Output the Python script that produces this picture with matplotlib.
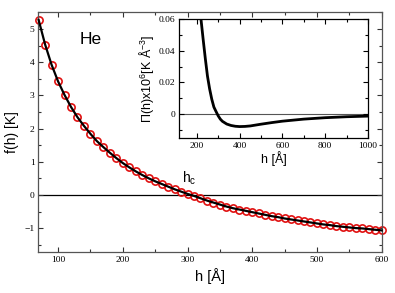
import matplotlib
matplotlib.use("Agg")
import matplotlib.pyplot as plt
from matplotlib.ticker import MultipleLocator, FuncFormatter

plt.rcParams['font.family'] = ['Liberation Serif', 'DejaVu Serif']
plt.rcParams['mathtext.fontset'] = 'custom'
plt.rcParams['mathtext.rm'] = 'Liberation Sans'
plt.rcParams['mathtext.it'] = 'Liberation Sans:italic'

# ---- main data: f(h) [K] vs h [Å]
h_main = [70, 80, 90, 100, 110, 120, 130, 140, 150, 160, 170, 180, 190, 200,
          210, 220, 230, 240, 250, 260, 270, 280, 290, 300, 310, 320, 330, 340,
          350, 360, 370, 380, 390, 400, 410, 420, 430, 440, 450, 460, 470, 480,
          490, 500, 510, 520, 530, 540, 550, 560, 570, 580, 590, 600]
f_main = [5.27, 4.53, 3.92, 3.42, 3.01, 2.65, 2.34, 2.08, 1.84, 1.62, 1.44, 1.27,
          1.11, 0.96, 0.83, 0.71, 0.60, 0.50, 0.41, 0.33, 0.25, 0.17, 0.10, 0.03,
          -0.03, -0.10, -0.17, -0.23, -0.29, -0.35, -0.40, -0.44, -0.48, -0.52,
          -0.56, -0.60, -0.64, -0.67, -0.71, -0.74, -0.77, -0.80, -0.83, -0.86,
          -0.89, -0.91, -0.94, -0.96, -0.98, -1.00, -1.01, -1.03, -1.05, -1.07]

# ---- inset data: Pi(h) x 1e6 [K Å^-3]
h_ins = [220, 230, 240, 250, 260, 270, 280, 290, 300, 310, 320, 340, 360, 380,
         400, 425, 450, 500, 550, 600, 700, 800, 900, 1000]
p_ins = [0.0595, 0.047, 0.035, 0.024, 0.016, 0.0095, 0.0045, 0.0017, -0.0010,
         -0.0031, -0.0045, -0.0062, -0.0071, -0.0076, -0.0078, -0.0077, -0.0074,
         -0.0063, -0.0053, -0.0044, -0.0031, -0.0022, -0.0016, -0.0012]

main_xticks = [100, 200, 300, 400, 500, 600]
main_yticks = [-1, 0, 1, 2, 3, 4, 5]
ins_xticks = [200, 400, 600, 800, 1000]
ins_yticks = [0, 0.02, 0.04, 0.06]

W, H = 395, 293
fig = plt.figure(figsize=(W / 100, H / 100), dpi=100)

sans = 'Liberation Sans'
tfs = 6.8

ax = fig.add_axes([38 / W, 1 - 252 / H, (382 - 38) / W, (252 - 12) / H])
ax.axhline(0, color='black', lw=0.9, zorder=1)
ax.plot(h_main, f_main, 'o', ms=5.2, mfc='none', mec='#e01010', mew=1.2,
        zorder=2, clip_on=False)
ax.plot(h_main, f_main, '-', color='black', lw=1.6, zorder=3, clip_on=False)
ax.set_xlim(69, 600.5)
ax.set_ylim(-1.72, 5.51)
ax.set_xticks(main_xticks)
ax.set_yticks(main_yticks)
ax.xaxis.set_minor_locator(MultipleLocator(50))
ax.yaxis.set_minor_locator(MultipleLocator(0.5))
ax.tick_params(which='both', direction='in', top=True, right=True,
               labelsize=tfs, width=0.8, color='#333333')
ax.tick_params(which='major', length=3.6)
ax.tick_params(which='minor', length=1.9)
ax.tick_params(axis='x', pad=3)
ax.tick_params(axis='y', pad=2.5)
for s in ax.spines.values():
    s.set_color('#555555')
    s.set_linewidth(0.9)
ax.set_xlabel('h [Å]', fontfamily=sans, fontsize=10.5, labelpad=3)
ax.set_ylabel('f(h) [K]', fontfamily=sans, fontsize=10, labelpad=4)
ax.text(91, H - 40, 'He', transform=None, fontfamily=sans, fontsize=12.5,
        ha='center', va='center')
ax.text(189, H - 178, r'h$_\mathrm{c}$', transform=None, fontfamily=sans,
        fontsize=10, ha='center', va='center')

# ---- inset
ins = fig.add_axes([179 / W, 1 - 138 / H, (368 - 179) / W, (138 - 19) / H])
ins.set_facecolor('white')
ins.axhline(0, color='#555555', lw=0.8, zorder=1)
ins.plot(h_ins, p_ins, '-', color='black', lw=2.0, zorder=2)
ins.set_xlim(117, 1000)
ins.set_ylim(-0.015, 0.06)
ins.set_xticks(ins_xticks)
ins.set_yticks(ins_yticks)
ins.yaxis.set_major_formatter(FuncFormatter(
    lambda v, p: '0' if abs(v) < 1e-9 else f'{v:.2f}'))
ins.xaxis.set_minor_locator(MultipleLocator(100))
ins.yaxis.set_minor_locator(MultipleLocator(0.01))
ins.tick_params(which='both', direction='in', top=True, right=True,
                labelsize=tfs, width=0.8)
ins.tick_params(which='major', length=3.6)
ins.tick_params(which='minor', length=1.9)
ins.tick_params(axis='x', pad=3)
ins.tick_params(axis='y', pad=2.5)
for s in ins.spines.values():
    s.set_color('black')
    s.set_linewidth(0.9)
ins.set_xlabel('h [Å]', fontfamily=sans, fontsize=9, labelpad=1)
ins.set_ylabel(r'Π(h)x10$^{6}$[K Å$^{-3}$]', fontfamily=sans, fontsize=9,
               labelpad=2)

fig.savefig('out.png', dpi=100)
